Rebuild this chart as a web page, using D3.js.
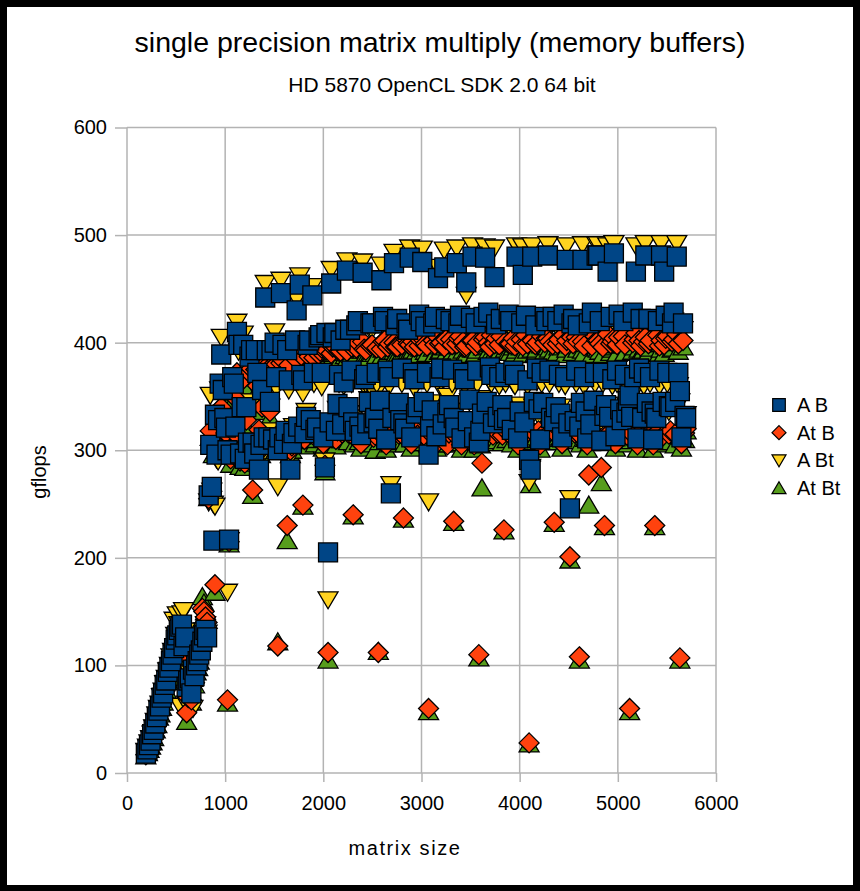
<!DOCTYPE html>
<html>
<head>
<meta charset="utf-8">
<script src="https://cdn.jsdelivr.net/npm/d3@7"></script>
<style>
  html, body { margin: 0; padding: 0; background: #000; }
  svg { display: block; }
  text { font-family: "Liberation Sans", Arial, sans-serif; fill: #000; }
</style>
</head>
<body>
<svg id="chart" width="860" height="891"></svg>
<script>
// Matrix sizes (N for an N x N multiply), one row per 256
const sizes = [
  192,208,224,240,256,272,288,304,320,336,352,368,384,400,416,432,
  448,464,480,496,512,528,544,560,576,592,608,624,640,656,672,688,
  704,720,736,752,768,784,800,816,832,848,864,880,896,912,928,944,
  960,976,992,1008,1024,1040,1056,1072,1088,1104,1120,1136,1152,1168,1184,1200,
  1216,1232,1248,1264,1280,1296,1312,1328,1344,1360,1376,1392,1408,1424,1440,1456,
  1472,1488,1504,1520,1536,1552,1568,1584,1600,1616,1632,1648,1664,1680,1696,1712,
  1728,1744,1760,1776,1792,1808,1824,1840,1856,1872,1888,1904,1920,1936,1952,1968,
  1984,2000,2016,2032,2048,2064,2080,2096,2112,2128,2144,2160,2176,2192,2208,2224,
  2240,2256,2272,2288,2304,2320,2336,2352,2368,2384,2400,2416,2432,2448,2464,2480,
  2496,2512,2528,2544,2560,2576,2592,2608,2624,2640,2656,2672,2688,2704,2720,2736,
  2752,2768,2784,2800,2816,2832,2848,2864,2880,2896,2912,2928,2944,2960,2976,2992,
  3008,3024,3040,3056,3072,3088,3104,3120,3136,3152,3168,3184,3200,3216,3232,3248,
  3264,3280,3296,3312,3328,3344,3360,3376,3392,3408,3424,3440,3456,3472,3488,3504,
  3520,3536,3552,3568,3584,3600,3616,3632,3648,3664,3680,3696,3712,3728,3744,3760,
  3776,3792,3808,3824,3840,3856,3872,3888,3904,3920,3936,3952,3968,3984,4000,4016,
  4032,4048,4064,4080,4096,4112,4128,4144,4160,4176,4192,4208,4224,4240,4256,4272,
  4288,4304,4320,4336,4352,4368,4384,4400,4416,4432,4448,4464,4480,4496,4512,4528,
  4544,4560,4576,4592,4608,4624,4640,4656,4672,4688,4704,4720,4736,4752,4768,4784,
  4800,4816,4832,4848,4864,4880,4896,4912,4928,4944,4960,4976,4992,5008,5024,5040,
  5056,5072,5088,5104,5120,5136,5152,5168,5184,5200,5216,5232,5248,5264,5280,5296,
  5312,5328,5344,5360,5376,5392,5408,5424,5440,5456,5472,5488,5504,5520,5536,5552,
  5568,5584,5600,5616,5632,5648,5664,5680,5696
];

// gflops for C = A * B
const gflopsAB = [
  18,22,26,30,36,40,46,52,58,62,70,74,82,86,94,98,
  104,110,116,124,128,133,136,138,118,126,80,86,88,74,96,90,
  100,104,110,114,122,128,133,126,258,305,266,216,333,296,328,362,
  389,356,330,321,300,217,296,368,362,322,410,398,297,340,398,292,
  340,307,387,393,307,297,393,372,282,305,356,312,442,393,312,345,
  393,310,400,368,300,312,446,398,306,318,393,365,282,306,316,402,
  430,322,454,370,365,316,331,398,402,328,444,372,319,321,405,407,
  372,312,284,409,205,326,455,405,409,318,343,370,402,324,363,412,
  467,340,412,374,326,318,416,420,322,314,465,366,370,325,345,418,
  418,326,330,372,320,346,458,424,420,310,374,368,260,330,474,416,
  422,344,328,376,325,320,418,412,479,312,372,366,334,340,426,420,
  475,345,415,372,296,322,337,418,424,313,460,368,376,324,470,422,
  335,342,420,375,330,321,474,418,425,311,372,366,456,327,347,423,
  480,312,418,374,307,318,334,424,479,345,428,377,370,325,461,417,
  331,368,422,342,328,372,330,426,420,319,374,370,480,311,336,418,
  463,326,425,365,291,282,480,345,416,376,338,310,372,344,424,420,
  481,374,330,424,327,340,420,370,334,312,426,368,477,325,246,418,
  422,327,374,416,322,344,477,368,336,311,418,324,428,346,372,481,
  481,420,309,372,332,342,466,331,424,366,483,313,374,426,338,328,
  420,370,335,346,351,331,428,368,466,311,376,422,330,372,481,344,
  422,368,336,310,334,330,420,374,481,345,466,425,372,341,340,418,
  428,345,480,372,355,312,418,332,330
];

// gflops for C = At * B
const gflopsAtB = [
  17,20,24,27,31,35,42,47,55,58,64,70,76,80,88,92,
  98,104,110,116,120,124,126,130,112,118,56,70,82,68,90,84,
  96,100,106,130,153,150,145,140,255,318,262,300,175,305,302,338,
  340,330,322,316,68,215,292,355,350,315,372,365,290,330,366,288,
  328,300,372,376,263,292,375,360,319,300,340,305,380,378,305,336,
  378,306,386,380,118,308,381,384,312,314,230,379,300,304,318,387,
  384,312,391,388,249,310,320,390,387,315,393,386,312,316,389,392,
  395,306,286,393,112,316,390,396,397,310,318,392,392,316,398,394,
  392,316,399,396,240,312,395,400,314,306,401,394,393,315,318,397,
  398,312,314,395,112,316,394,401,402,305,396,399,312,316,400,396,
  396,315,316,398,237,312,403,399,398,306,401,396,318,314,397,402,
  404,314,399,397,60,316,318,402,398,306,405,399,400,313,396,403,
  305,316,403,398,234,314,399,404,406,305,401,396,397,315,318,402,
  402,305,397,400,110,312,288,403,405,318,400,396,407,314,399,404,
  316,398,406,314,226,401,317,399,399,313,404,397,401,305,318,403,
  397,314,407,399,28,290,402,316,398,400,318,305,406,315,400,404,
  404,401,318,398,233,315,399,403,318,306,407,397,402,316,201,405,
  399,316,405,401,108,313,401,397,318,305,277,314,397,317,406,402,
  402,399,284,396,230,315,408,316,399,401,404,306,398,405,318,314,
  406,398,319,313,60,316,400,403,409,305,402,397,318,401,405,316,
  399,402,318,305,230,316,407,397,402,313,398,404,406,315,318,401,
  403,315,408,399,107,306,402,316,320
];

// gflops for C = A * Bt
const gflopsABt = [
  20,24,28,32,36,42,48,54,60,64,71,76,83,88,95,100,
  108,113,142,128,147,138,62,148,151,132,64,80,92,78,60,94,
  104,108,112,118,126,132,138,130,252,351,262,250,248,292,290,356,
  405,350,328,318,168,216,300,360,360,318,419,392,294,336,408,290,
  345,302,382,388,300,292,390,368,290,300,340,308,455,388,318,340,
  388,306,410,358,266,308,458,392,310,314,390,356,294,302,322,396,
  441,318,462,360,353,312,336,392,398,322,452,362,325,316,400,402,
  359,308,290,402,161,322,468,398,404,312,338,362,398,320,360,406,
  476,334,406,362,330,314,410,414,320,310,475,360,362,320,347,412,
  412,320,352,362,330,340,472,418,414,306,364,360,268,324,484,410,
  416,338,338,362,330,315,412,406,488,308,362,358,340,334,418,414,
  487,340,409,362,252,318,344,412,418,308,470,360,364,318,486,416,
  350,336,414,362,336,316,488,412,418,306,363,360,444,322,345,416,
  490,308,412,362,318,314,348,418,489,340,420,364,362,320,488,410,
  338,360,416,336,332,362,336,420,414,314,362,360,490,306,342,412,
  489,320,418,360,270,284,490,340,410,364,332,306,362,338,418,414,
  491,362,336,418,330,334,414,362,340,308,420,360,490,320,255,412,
  416,322,362,410,330,338,491,360,344,306,412,320,420,340,362,491,
  491,414,320,362,336,336,490,326,418,360,492,308,362,420,330,322,
  414,360,342,340,340,326,420,362,490,306,362,416,338,360,492,338,
  416,362,344,306,338,324,414,360,492,340,480,418,362,336,346,412,
  420,340,492,360,345,308,412,333,333
];

// gflops for C = At * Bt
const gflopsAtBt = [
  16,19,22,25,29,33,40,45,52,55,61,66,73,77,85,89,
  96,102,108,114,116,120,124,126,108,114,48,68,80,66,88,82,
  94,98,104,140,164,158,150,142,256,312,258,296,168,300,298,332,
  334,326,318,310,65,213,287,350,346,310,368,360,285,326,360,284,
  322,296,368,372,258,288,370,355,315,296,336,300,375,372,300,330,
  372,302,380,374,122,304,376,377,306,308,216,373,296,300,312,380,
  378,306,384,382,248,304,314,384,381,309,386,380,306,310,383,386,
  388,302,280,386,105,310,384,390,390,304,310,386,385,310,391,388,
  385,308,392,389,239,306,388,393,308,302,393,387,386,308,310,390,
  390,306,300,388,113,308,387,394,395,301,389,392,306,310,392,389,
  388,308,309,391,236,306,395,392,391,302,393,389,310,307,389,395,
  396,307,392,390,57,309,311,395,390,302,397,392,393,306,388,396,
  306,309,396,391,233,307,391,397,398,301,393,389,389,308,310,395,
  394,301,390,393,107,305,265,396,397,311,392,389,399,307,391,397,
  309,391,398,307,225,394,310,392,391,306,396,390,393,301,311,396,
  389,307,399,393,27,268,394,308,390,394,310,301,398,308,392,397,
  396,394,310,391,232,308,391,396,311,302,399,389,394,309,198,398,
  391,309,397,394,105,306,393,390,311,301,249,307,389,310,398,395,
  394,392,270,389,229,307,400,308,391,394,396,302,390,398,309,307,
  398,391,311,306,57,309,392,396,401,301,394,390,310,393,397,309,
  391,395,311,301,229,308,399,390,394,306,390,397,398,308,308,394,
  395,305,400,392,105,302,396,310,318
];

const seriesNames = ["A B", "At B", "A Bt", "At Bt"];
const seriesColors = ["#004586", "#ff420e", "#ffd320", "#579d1c"];
const seriesShapes = ["square", "diamond", "triangleDown", "triangleUp"];
const xTicks = [0, 1000, 2000, 3000, 4000, 5000, 6000];
const yTicks = [0, 100, 200, 300, 400, 500, 600];

const titleText = "single precision matrix multiply (memory buffers)";
const subtitleText = "HD 5870 OpenCL SDK 2.0 64 bit";
const xLabel = "matrix size";
const yLabel = "gflops";

const series = [gflopsAB, gflopsAtB, gflopsABt, gflopsAtBt].map((vals, i) => ({
  name: seriesNames[i],
  color: seriesColors[i],
  shape: seriesShapes[i],
  points: sizes.map((s, j) => ({ size: s, gflops: vals[j] }))
}));

// marker outlines centred on (0,0); r is the half-width
function shapePath(shape, r) {
  const p = d3.path();
  if (shape === "square") {
    p.rect(-r, -r, 2 * r, 2 * r);
  } else if (shape === "diamond") {
    p.moveTo(0, -r); p.lineTo(r, 0); p.lineTo(0, r); p.lineTo(-r, 0); p.closePath();
  } else if (shape === "triangleDown") {
    p.moveTo(-r, -r * 0.8); p.lineTo(r, -r * 0.8); p.lineTo(0, r * 0.9); p.closePath();
  } else {
    p.moveTo(0, -r * 0.9); p.lineTo(r, r * 0.8); p.lineTo(-r, r * 0.8); p.closePath();
  }
  return p.toString();
}

const svg = d3.select("#chart");

// white page inside a thin black frame
svg.append("rect").attr("x", 7).attr("y", 7).attr("width", 846).attr("height", 878).attr("fill", "#fff");

const x = d3.scaleLinear().domain([0, 6000]).range([127, 716]);
const y = d3.scaleLinear().domain([0, 600]).range([773, 127.5]);

const gridColor = "#b3b3b3";

// grid
const grid = svg.append("g");
grid.selectAll("line.v").data(xTicks).join("line")
  .attr("x1", d => x(d)).attr("x2", d => x(d))
  .attr("y1", y(600)).attr("y2", y(0))
  .attr("stroke", gridColor).attr("stroke-width", 1.5);
grid.selectAll("line.h").data(yTicks).join("line")
  .attr("x1", x(0)).attr("x2", x(6000))
  .attr("y1", d => y(d)).attr("y2", d => y(d))
  .attr("stroke", gridColor).attr("stroke-width", 1.5);

// axes
const yAxis = svg.append("g")
  .attr("transform", `translate(${x(0)},0)`)
  .call(d3.axisLeft(y).tickValues(yTicks).tickSize(12).tickPadding(8).tickFormat(d3.format("d")));
const xAxis = svg.append("g")
  .attr("transform", `translate(0,${y(0)})`)
  .call(d3.axisBottom(x).tickValues(xTicks).tickSize(9).tickPadding(14).tickFormat(d3.format("d")));
[xAxis, yAxis].forEach(a => {
  a.select(".domain").remove();
  a.selectAll(".tick line").attr("stroke", gridColor).attr("stroke-width", 1.5);
  a.selectAll(".tick text")
    .style("font-family", '"Liberation Sans", Arial, sans-serif')
    .style("font-size", "20px").attr("fill", "#000");
});

// markers: drawn from the last legend entry to the first so "A B" sits on top
const plot = svg.append("g");
series.slice().reverse().forEach(s => {
  plot.append("g").selectAll("path").data(s.points).join("path")
    .attr("transform", d => `translate(${x(d.size)},${y(d.gflops)})`)
    .attr("d", shapePath(s.shape, s.shape === "square" ? 9.5 : 10))
    .attr("fill", s.color)
    .attr("stroke", "#000")
    .attr("stroke-width", 1.3);
});

// titles
svg.append("text").attr("x", 440).attr("y", 52).attr("text-anchor", "middle")
  .style("font-size", "28.5px").text(titleText);
svg.append("text").attr("x", 442).attr("y", 92).attr("text-anchor", "middle")
  .style("font-size", "21px").text(subtitleText);

// axis titles
svg.append("text").attr("x", 405).attr("y", 855).attr("text-anchor", "middle")
  .style("font-size", "20px").style("letter-spacing", "1.6px").text(xLabel);
svg.append("text").attr("transform", "translate(46,472) rotate(-90)").attr("text-anchor", "middle")
  .style("font-size", "20px").text(yLabel);

// legend
const legend = svg.append("g").attr("transform", "translate(779,405)");
const rows = legend.selectAll("g").data(series).join("g")
  .attr("transform", (d, i) => `translate(0,${i * 27.7})`);
rows.append("path")
  .attr("d", d => shapePath(d.shape, d.shape === "square" ? 6.3 : 7))
  .attr("fill", d => d.color).attr("stroke", "#000").attr("stroke-width", 1.2);
rows.append("text").attr("x", 18).attr("y", 0).attr("dy", "0.35em")
  .style("font-size", "20px").text(d => d.name);
</script>
</body>
</html>
